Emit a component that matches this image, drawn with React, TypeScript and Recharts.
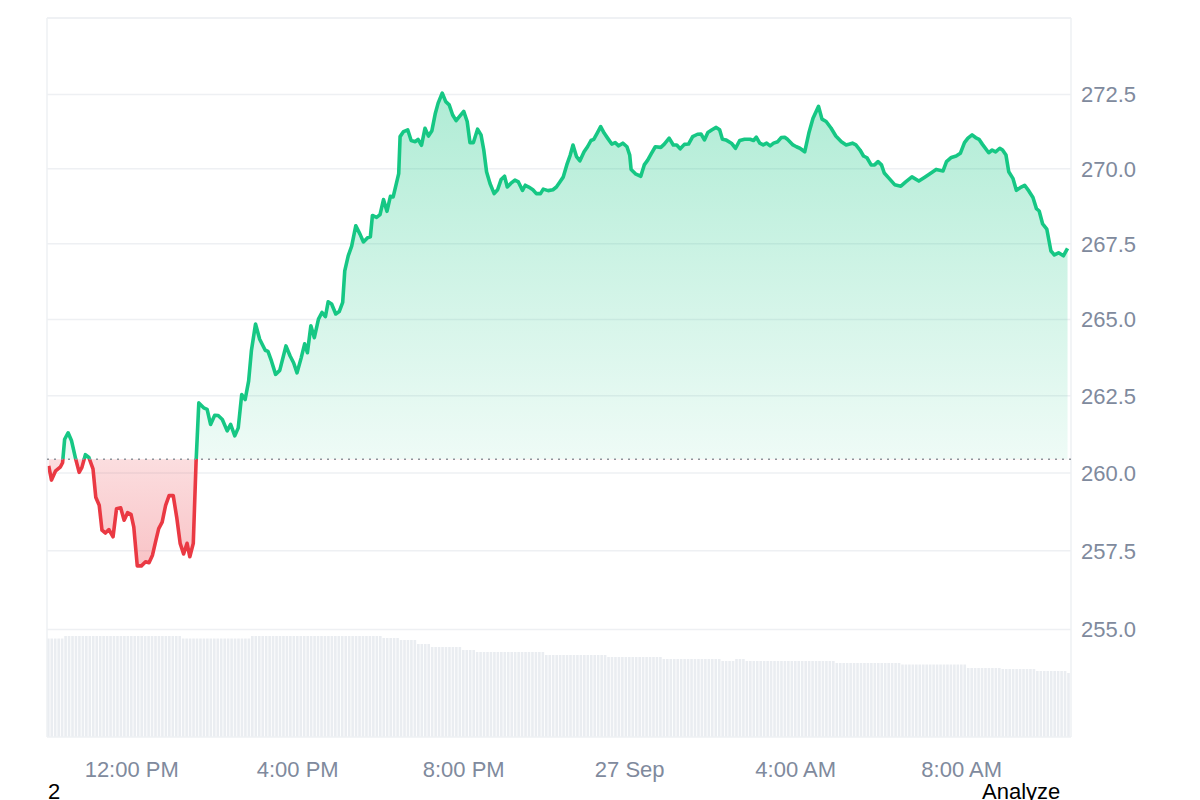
import React from "react";
import {
  ComposedChart,
  Area,
  Bar,
  XAxis,
  YAxis,
  CartesianGrid,
  ReferenceLine,
} from "recharts";

// time = minutes since 00:00 on 26 Sep
const priceTimes = [
  600, 604, 610, 617, 620, 623, 628, 633, 639, 644, 648, 653, 658, 664, 668, 673, 677, 682, 687, 693,
  698, 704, 709, 714, 719, 723, 728, 734, 740, 745, 750, 755, 759, 764, 769, 774, 780, 785, 790, 795,
  800, 804, 809, 813, 817, 824, 829, 834, 840, 845, 851, 858, 863, 869, 874, 879, 884, 889, 893, 899,
  905, 913, 917, 922, 928, 934, 943, 949, 954, 959, 965, 970, 974, 979, 984, 990, 995, 1000, 1004, 1009,
  1015, 1020, 1025, 1028, 1033, 1038, 1044, 1050, 1055, 1061, 1065, 1068, 1074, 1079, 1084, 1089, 1094, 1098, 1106, 1108,
  1113, 1119, 1124, 1130, 1134, 1139, 1144, 1149, 1154, 1159, 1163, 1169, 1174, 1179, 1184, 1189, 1194, 1200, 1205, 1209,
  1214, 1220, 1225, 1229, 1233, 1238, 1244, 1249, 1254, 1259, 1263, 1268, 1274, 1279, 1285, 1289, 1294, 1300, 1305, 1311,
  1315, 1322, 1329, 1334, 1339, 1344, 1349, 1354, 1358, 1363, 1368, 1374, 1379, 1384, 1388, 1393, 1398, 1403, 1408, 1414,
  1419, 1424, 1430, 1436, 1440, 1442, 1449, 1456, 1461, 1466, 1471, 1477, 1485, 1490, 1497, 1503, 1508, 1513, 1519, 1525,
  1531, 1538, 1543, 1548, 1553, 1559, 1565, 1570, 1574, 1579, 1587, 1593, 1599, 1606, 1614, 1619, 1623, 1628, 1633, 1638,
  1643, 1648, 1654, 1659, 1664, 1668, 1676, 1681, 1686, 1693, 1699, 1705, 1713, 1718, 1724, 1731, 1738, 1746, 1753, 1758,
  1762, 1767, 1773, 1778, 1783, 1789, 1794, 1799, 1804, 1808, 1815, 1823, 1832, 1839, 1848, 1858, 1866, 1873, 1883, 1893,
  1898, 1905, 1912, 1918, 1924, 1929, 1935, 1940, 1945, 1950, 1959, 1964, 1969, 1975, 1979, 1984, 1988, 1994, 1999, 2006,
  2011, 2017, 2023, 2028, 2032, 2037, 2043, 2049, 2054, 2060, 2067, 2073,
];

const priceValues = [
  260.23, 259.77, 260.07, 260.2, 260.33, 261.09, 261.3, 261.04, 260.45, 260.02, 260.18, 260.59, 260.5, 260.13, 259.22, 258.96, 258.16, 258.07, 258.18, 257.95,
  258.85, 258.88, 258.48, 258.72, 258.67, 258.26, 257.02, 257.02, 257.15, 257.12, 257.36, 257.84, 258.21, 258.42, 258.96, 259.27, 259.27, 258.58, 257.74, 257.4,
  257.74, 257.31, 257.74, 260.34, 262.27, 262.11, 262.06, 261.57, 261.87, 261.86, 261.73, 261.36, 261.57, 261.2, 261.46, 262.54, 262.38, 262.98, 263.97, 264.85,
  264.35, 263.99, 263.95, 263.64, 263.2, 263.33, 264.13, 263.8, 263.58, 263.25, 263.74, 264.2, 263.91, 264.79, 264.4, 265.01, 265.23, 265.09, 265.58, 265.51,
  265.18, 265.26, 265.56, 266.6, 267.1, 267.42, 268.1, 267.82, 267.56, 267.7, 267.73, 268.44, 268.38, 268.47, 268.97, 268.58, 269.08, 269.06, 269.84, 271.08,
  271.25, 271.31, 270.95, 270.91, 270.99, 270.79, 271.36, 271.1, 271.28, 271.87, 272.21, 272.55, 272.26, 272.15, 271.81, 271.62, 271.76, 271.93, 271.59, 270.88,
  270.88, 271.33, 271.14, 270.63, 269.9, 269.51, 269.17, 269.3, 269.64, 269.75, 269.39, 269.51, 269.62, 269.56, 269.28, 269.45, 269.39, 269.3, 269.17, 269.17,
  269.32, 269.27, 269.3, 269.39, 269.56, 269.73, 270.13, 270.46, 270.8, 270.41, 270.27, 270.57, 270.74, 270.95, 270.99, 271.2, 271.42, 271.2, 271.03, 270.83,
  270.88, 270.77, 270.86, 270.74, 270.46, 269.98, 269.82, 269.75, 270.13, 270.29, 270.5, 270.74, 270.72, 270.83, 271.03, 270.8, 270.8, 270.67, 270.82, 270.83,
  271.08, 271.16, 271.17, 270.97, 271.22, 271.31, 271.39, 271.31, 270.99, 270.97, 270.86, 270.69, 270.95, 270.99, 270.99, 270.95, 271.06, 270.86, 270.8, 270.86,
  270.77, 270.86, 270.91, 271.05, 271.06, 270.99, 270.8, 270.74, 270.69, 270.57, 271.2, 271.7, 272.1, 271.67, 271.59, 271.37, 271.1, 270.91, 270.8, 270.83,
  270.86, 270.8, 270.63, 270.43, 270.37, 270.13, 270.13, 270.24, 270.13, 269.86, 269.68, 269.47, 269.42, 269.56, 269.73, 269.59, 269.71, 269.82, 269.98, 269.93,
  270.24, 270.38, 270.43, 270.52, 270.88, 271.03, 271.14, 271.05, 270.99, 270.82, 270.54, 270.63, 270.57, 270.69, 270.63, 270.46, 269.9, 269.68, 269.28, 269.39,
  269.45, 269.26, 269.04, 268.67, 268.59, 268.16, 267.99, 267.26, 267.13, 267.2, 267.1, 267.35,
];

// 5-minute volume bars from 10:00, one row per hour
const volumeValues = [
  98.5, 98.5, 98.5, 98.5, 98.5, 101, 101, 101, 101, 101, 101, 101,
  101, 101, 101, 101, 101, 101, 101, 101, 101, 101, 101, 101,
  101, 101, 101, 101, 101, 101, 101, 101, 101, 101, 101, 101,
  101, 101, 101, 98.5, 98.5, 98.5, 98.5, 98.5, 98.5, 98.5, 98.5, 98.5,
  98.5, 98.5, 98.5, 98.5, 98.5, 98.5, 98.5, 98.5, 98.5, 98.5, 98.5, 101,
  101, 101, 101, 101, 101, 101, 101, 101, 101, 101, 101, 101,
  101, 101, 101, 101, 101, 101, 101, 101, 101, 101, 101, 101,
  101, 101, 101, 101, 101, 101, 101, 101, 101, 101, 101, 101,
  101, 99, 99, 99, 99, 99, 97, 97, 97, 97, 97, 93,
  93, 93, 93, 90, 90, 90, 90, 90, 90, 90, 90, 90,
  87, 87, 87, 87, 85, 85, 85, 85, 85, 85, 85, 85,
  85, 85, 85, 85, 85, 85, 85, 85, 85, 85, 85, 85,
  82, 82, 82, 82, 82, 82, 82, 82, 82, 82, 82, 82,
  82, 82, 82, 82, 82, 82, 80, 80, 80, 80, 80, 80,
  80, 80, 80, 80, 80, 80, 80, 80, 80, 80, 78, 78,
  78, 78, 78, 78, 78, 78, 78, 78, 78, 78, 78, 78,
  78, 78, 78, 76, 76, 76, 76, 78, 78, 78, 76, 76,
  76, 76, 76, 76, 76, 76, 76, 76, 76, 76, 76, 76,
  76, 76, 76, 76, 76, 76, 76, 76, 76, 76, 76, 76,
  74, 74, 74, 74, 74, 74, 74, 74, 74, 74, 74, 74,
  74, 74, 74, 74, 74, 74, 74, 72.5, 72.5, 72.5, 72.5, 72.5,
  72.5, 72.5, 72.5, 72.5, 72.5, 72.5, 72.5, 72.5, 72.5, 72.5, 72.5, 72.5,
  72.5, 72.5, 69, 69, 69, 69, 69, 69, 69, 69, 69, 69,
  68, 68, 68, 68, 68, 68, 68, 68, 68, 68, 66, 66,
  66, 66, 66, 66, 66, 66, 66, 64,
];
const VOLUME_START = 600;

const xTicks = [720, 960, 1200, 1440, 1680, 1920];
const xTickLabels = ["12:00 PM", "4:00 PM", "8:00 PM", "27 Sep", "4:00 AM", "8:00 AM"];
const yTicks = [255, 257.5, 260, 262.5, 265, 267.5, 270, 272.5];

const X_DOMAIN: [number, number] = [597.5, 2078];
const Y_DOMAIN: [number, number] = [251.62, 275.1];
const BASELINE = 260.44;

const GREEN = "#16c784";
const RED = "#ea3943";
const GRID = "#eef0f3";
const TEXT = "#808a9d";
const FONT = "Arial, 'Liberation Sans', Helvetica, sans-serif";

const priceData = priceTimes.map((t, i) => ({ time: t, price: priceValues[i] }));
const volumeData = volumeValues.map((v, i) => ({ time: VOLUME_START + i * 5, volume: v }));

const maxP = Math.max(...priceValues);
const minP = Math.min(...priceValues);
const split =
  (Math.log(maxP) - Math.log(BASELINE)) / (Math.log(maxP) - Math.log(minP));

const W = 1184;
const H = 780;
const margin = { top: 10, right: 41, left: 39, bottom: 11 };

export default function App() {
  return (
    <div style={{ position: "relative", width: W, height: 800, fontFamily: FONT }}>
      <div style={{ position: "absolute", left: 0, top: 0 }}>
        <ComposedChart width={W} height={H} data={volumeData} margin={margin}>
          <XAxis
            dataKey="time"
            type="number"
            domain={X_DOMAIN}
            allowDataOverflow
            height={40}
            tick={false}
            axisLine={false}
            tickLine={false}
          />
          <YAxis
            yAxisId="vol"
            orientation="right"
            width={80}
            domain={[0, 719]}
            allowDataOverflow
            tick={false}
            axisLine={false}
            tickLine={false}
          />
          <Bar
            yAxisId="vol"
            dataKey="volume"
            fill="#eaedf1"
            barSize={2.6}
            isAnimationActive={false}
          />
        </ComposedChart>
      </div>
      <div style={{ position: "absolute", left: 0, top: 0 }}>
        <ComposedChart width={W} height={H} data={priceData} margin={margin}>
          <defs>
            <linearGradient id="priceStroke" x1="0" y1="0" x2="0" y2="1">
              <stop offset={split} stopColor={GREEN} />
              <stop offset={split} stopColor={RED} />
            </linearGradient>
            <linearGradient id="priceFill" x1="0" y1="0" x2="0" y2="1">
              <stop offset={0} stopColor={GREEN} stopOpacity={0.34} />
              <stop offset={split} stopColor={GREEN} stopOpacity={0.07} />
              <stop offset={split} stopColor={RED} stopOpacity={0.17} />
              <stop offset={1} stopColor={RED} stopOpacity={0.3} />
            </linearGradient>
          </defs>
          <CartesianGrid vertical={false} stroke={GRID} strokeWidth={1.5} />
          <XAxis
            dataKey="time"
            type="number"
            domain={X_DOMAIN}
            allowDataOverflow
            ticks={xTicks}
            tickFormatter={(v) => xTickLabels[xTicks.indexOf(v)] ?? ""}
            height={40}
            axisLine={false}
            tickLine={false}
            tickMargin={18}
            tick={{ fill: TEXT, fontSize: 22, fontFamily: FONT }}
          />
          <YAxis
            orientation="right"
            scale="log"
            domain={Y_DOMAIN}
            allowDataOverflow
            ticks={yTicks}
            tickFormatter={(v) => Number(v).toFixed(1)}
            width={80}
            axisLine={false}
            tickLine={false}
            tickMargin={4}
            tick={{ fill: TEXT, fontSize: 22, fontFamily: FONT }}
          />
          <ReferenceLine x={X_DOMAIN[0]} stroke={GRID} strokeWidth={1.5} />
          <ReferenceLine x={X_DOMAIN[1]} stroke={GRID} strokeWidth={1.5} />
          <ReferenceLine y={Y_DOMAIN[1]} stroke={GRID} strokeWidth={1.5} />
          <Area
            type="linear"
            dataKey="price"
            baseValue={BASELINE}
            stroke="url(#priceStroke)"
            strokeWidth={3.6}
            strokeLinejoin="round"
            fill="url(#priceFill)"
            fillOpacity={1}
            dot={false}
            activeDot={false}
            isAnimationActive={false}
          />
          <ReferenceLine
            y={BASELINE}
            stroke="#8f949b"
            strokeWidth={1.5}
            strokeDasharray="2 5"
          />
        </ComposedChart>
      </div>
      <span
        style={{
          position: "absolute",
          left: 40,
          top: 771,
          fontSize: 22,
          lineHeight: "25px",
          color: "#000",
        }}
      >
        2
      </span>
      <span
        style={{
          position: "absolute",
          left: 974,
          top: 771,
          fontSize: 22,
          lineHeight: "25px",
          color: "#000",
        }}
      >
        Analyze
      </span>
    </div>
  );
}
